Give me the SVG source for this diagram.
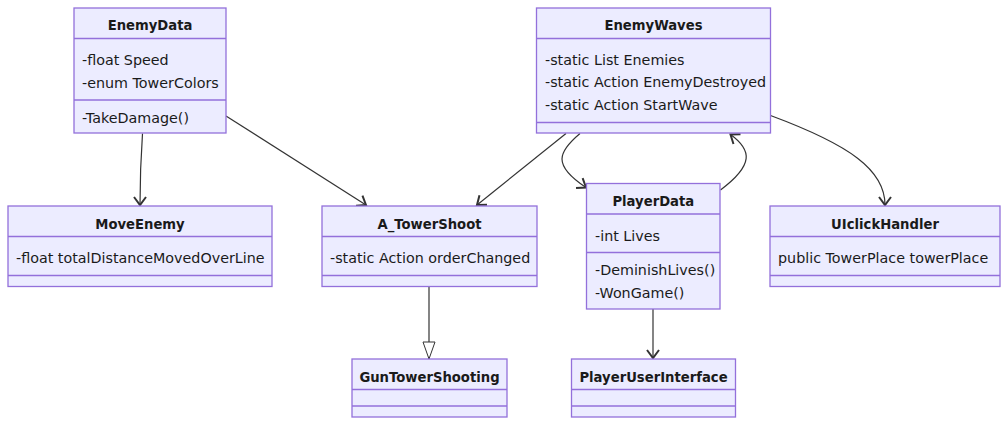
<svg xmlns="http://www.w3.org/2000/svg" width="1008" height="425" viewBox="0 0 1008 425">
<style>
.box{fill:#ECECFF;stroke:#9370DB;stroke-width:1.3}
.div{stroke:#9370DB;stroke-width:1.3}
.t{font-family:"DejaVu Sans","Liberation Sans",sans-serif;font-size:14.3px;fill:#1a1a1a}
.title{font-family:"DejaVu Sans","Liberation Sans",sans-serif;font-size:13.2px;font-weight:bold;fill:#1a1a1a;text-anchor:middle}
.edge{fill:none;stroke:#333;stroke-width:1.2}
</style>
<defs>
<marker id="arr" viewBox="-10 -8 12 16" markerWidth="12" markerHeight="16" refX="0" refY="0" orient="auto" markerUnits="userSpaceOnUse">
<path d="M-8,-6 L0,0 L-8,6" fill="none" stroke="#333" stroke-width="2"/>
</marker>
<marker id="tri" viewBox="-19 -8 21 16" markerWidth="21" markerHeight="16" refX="0" refY="0" orient="auto" markerUnits="userSpaceOnUse">
<path d="M-17,-6 L0,0 L-17,6 Z" fill="#fff" stroke="#333" stroke-width="1"/>
</marker>
</defs>
<g id="connectors">
<path class="edge" d="M142.5,133.5 C141,155 140,175 140,205" marker-end="url(#arr)"/>
<path class="edge" d="M226,116 L366,205" marker-end="url(#arr)"/>
<path class="edge" d="M566,133.5 L477,205" marker-end="url(#arr)"/>
<path class="edge" d="M580,133.5 C558,152 552,165 586,187.5" marker-end="url(#arr)"/>
<path class="edge" d="M720.5,190 C754,165 752,150 730.5,134.5" marker-end="url(#arr)"/>
<path class="edge" d="M770.5,115.5 C850,145 885,170 885,205" marker-end="url(#arr)"/>
<path class="edge" d="M653,309 L653,358" marker-end="url(#arr)"/>
<path class="edge" d="M429,287 L429,359" marker-end="url(#tri)"/>
</g>
<g id="EnemyData">
<rect class="box" x="74" y="8" width="152" height="125"/>
<line class="div" x1="74" y1="38.5" x2="226" y2="38.5"/>
<line class="div" x1="74" y1="100" x2="226" y2="100"/>
<text class="title" x="150" y="30">EnemyData</text>
<text class="t" x="82" y="65">-float Speed</text>
<text class="t" x="82" y="88">-enum TowerColors</text>
<text class="t" x="82" y="122.5">-TakeDamage()</text>
</g>
<g id="MoveEnemy">
<rect class="box" x="8" y="206" width="264" height="80.5"/>
<line class="div" x1="8" y1="236.5" x2="272" y2="236.5"/>
<line class="div" x1="8" y1="275.5" x2="272" y2="275.5"/>
<text class="title" x="140" y="229">MoveEnemy</text>
<text class="t" x="16" y="263">-float totalDistanceMovedOverLine</text>
</g>
<g id="A_TowerShoot">
<rect class="box" x="322" y="206" width="215" height="80.5"/>
<line class="div" x1="322" y1="236.5" x2="537" y2="236.5"/>
<line class="div" x1="322" y1="275.5" x2="537" y2="275.5"/>
<text class="title" x="429.5" y="229">A_TowerShoot</text>
<text class="t" x="330" y="263">-static Action orderChanged</text>
</g>
<g id="GunTowerShooting">
<rect class="box" x="352" y="359" width="155" height="58"/>
<line class="div" x1="352" y1="389.5" x2="507" y2="389.5"/>
<line class="div" x1="352" y1="406" x2="507" y2="406"/>
<text class="title" x="429.5" y="382">GunTowerShooting</text>
</g>
<g id="PlayerUserInterface">
<rect class="box" x="571.5" y="359" width="164" height="58"/>
<line class="div" x1="571.5" y1="389.5" x2="735.5" y2="389.5"/>
<line class="div" x1="571.5" y1="406" x2="735.5" y2="406"/>
<text class="title" x="653.5" y="382">PlayerUserInterface</text>
</g>
<g id="PlayerData">
<rect class="box" x="586.5" y="183.5" width="133.5" height="125.5"/>
<line class="div" x1="586.5" y1="214" x2="720" y2="214"/>
<line class="div" x1="586.5" y1="252.5" x2="720" y2="252.5"/>
<text class="title" x="653.3" y="205.5">PlayerData</text>
<text class="t" x="595" y="240.5">-int Lives</text>
<text class="t" x="595" y="275">-DeminishLives()</text>
<text class="t" x="595" y="297.5">-WonGame()</text>
</g>
<g id="EnemyWaves">
<rect class="box" x="536.5" y="8" width="234" height="125"/>
<line class="div" x1="536.5" y1="38.5" x2="770.5" y2="38.5"/>
<line class="div" x1="536.5" y1="122.5" x2="770.5" y2="122.5"/>
<text class="title" x="653.5" y="30">EnemyWaves</text>
<text class="t" x="545" y="64.5">-static List Enemies</text>
<text class="t" x="545" y="87">-static Action EnemyDestroyed</text>
<text class="t" x="545" y="109.5">-static Action StartWave</text>
</g>
<g id="UIclickHandler">
<rect class="box" x="770" y="206" width="230" height="80.5"/>
<line class="div" x1="770" y1="236.5" x2="1000" y2="236.5"/>
<line class="div" x1="770" y1="275.5" x2="1000" y2="275.5"/>
<text class="title" x="885" y="229">UIclickHandler</text>
<text class="t" x="778" y="263">public TowerPlace towerPlace</text>
</g>
</svg>
